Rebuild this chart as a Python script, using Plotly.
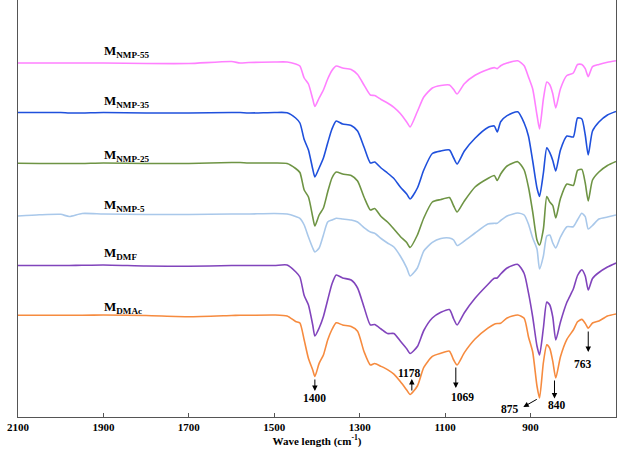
import plotly.graph_objects as go

# Wavenumber grid (cm-1) at which the spectra were read
wavenumber = [2100, 2050, 2000, 1980, 1950, 1900, 1800, 1700, 1600, 1580,
              1560, 1500, 1470, 1450, 1440, 1430, 1420, 1410, 1405, 1395,
              1385, 1375, 1365, 1355, 1340, 1320, 1305, 1290, 1275, 1265,
              1250, 1235, 1220, 1205, 1190, 1182, 1165, 1150, 1130, 1110,
              1090, 1080, 1072, 1055, 1030, 1000, 985, 978, 970, 955,
              930, 915, 905, 895, 885, 879, 870, 862, 855, 848,
              841, 830, 815, 800, 790, 780, 772, 765, 755, 740,
              720, 700]

# Offset absorption (a.u., increasing downwards; stacked spectra)
m_nmp55 = [63, 63, 63, 63, 63, 63, 63.5, 63.5, 61.5, 63,
           62.5, 62, 62, 64, 66, 78, 84, 99, 106.5, 98,
           90, 79, 70.5, 66, 68, 69.5, 74.5, 85, 95, 95.5,
           99.5, 103, 107.3, 113.5, 122, 127, 111.5, 97, 88, 85.5,
           85, 89.6, 94, 83.7, 75.3, 69.5, 67.6, 68.6, 65.7, 63,
           60.8, 65.7, 76.9, 89, 115, 129, 99, 82, 84.8, 93.8,
           108, 88.7, 75.5, 73, 64.5, 64.4, 68.7, 76.7, 66.6, 64.5,
           62.3, 60.7]

m_nmp35 = [112.5, 112.5, 112.5, 113, 113, 112.5, 113, 113, 112.5, 112.5,
           113, 112.5, 112.7, 118, 123, 139.5, 150, 169, 177, 168,
           158, 143, 129, 121, 124, 125.5, 131, 147, 163, 162,
           168, 173, 178.5, 187, 194, 199, 188, 170, 153.5, 151,
           150, 158, 164, 151, 138.3, 127.5, 126, 132, 121.7, 115.6,
           111.8, 123, 136, 161, 188, 196.5, 173, 147.7, 152.7, 160.5,
           171, 150, 136, 137, 118, 119, 135, 155, 131, 122,
           115, 111.5]

m_nmp25 = [163.3, 163.5, 163.5, 163.5, 163.5, 163, 163.5, 163.5, 162.5, 162.5,
           163, 163, 163.5, 168.5, 172.5, 190, 197, 217, 226, 215,
           208, 192, 178, 172, 174, 175.5, 181, 197, 210, 208.5,
           216.5, 222, 229, 236.5, 242.5, 247.5, 235, 218, 202, 199.5,
           197.5, 206, 212, 201, 187, 178.5, 175.5, 180.5, 174, 166,
           161.7, 170, 187, 212, 240, 245, 229, 196.5, 202, 205.5,
           218, 198.5, 184, 185.5, 170.3, 169.4, 183, 201, 180, 172,
           165.5, 161.5]

m_nmp5 = [216, 214.8, 214.3, 216.5, 213.5, 214, 214.5, 214.5, 214, 214,
          214, 213.5, 214, 216.5, 218.3, 225, 237, 248, 252, 248,
          235, 222, 220, 218.3, 219, 220, 222, 227.6, 232, 233.3,
          238.5, 243, 247, 256, 267.8, 276, 268, 251, 242.4, 238.5,
          238, 240, 245.5, 241, 233, 224, 223.3, 223.3, 220.5, 216,
          213, 215, 224, 238, 249, 269, 256, 236, 235, 243,
          248, 237, 226.7, 226.7, 219.8, 213.3, 216.7, 229, 225.5, 219,
          217, 215]

m_dmf = [265.5, 265.5, 265.5, 265.5, 265.3, 265, 266, 266.3, 265.5, 265.5,
         265.5, 265.5, 265, 271.7, 277, 295.5, 305, 325, 336, 328,
         316.5, 300, 284, 275, 278, 280, 288, 307, 325, 324.5,
         329, 333.5, 333.5, 341, 348.7, 353.5, 346.5, 330.5, 318, 312.3,
         309.5, 319, 325, 312.7, 298.3, 284.5, 278.3, 278, 274, 268,
         264.4, 273.5, 292.6, 317, 346, 355, 328, 302, 305, 317,
         340, 322, 302.3, 289, 275.5, 269.7, 276, 290, 278.5, 272.5,
         267, 263]

m_dmac = [315.3, 315.3, 315.3, 315.3, 315.3, 315, 315.5, 316.7, 315.5, 315.3,
          315.3, 315, 316, 321.5, 323, 340, 358.5, 370, 376.5, 363.4,
          355, 340, 329.5, 322.8, 325, 326.6, 331.2, 351.5, 365, 363.5,
          366.4, 369.6, 374.2, 381.6, 390, 394.5, 386, 367.4, 356.4, 353.3,
          351.2, 360, 365, 352.6, 339, 328.2, 324.2, 323.5, 323.2, 318,
          315, 318.3, 336.7, 352, 386, 398, 362.5, 344.7, 348.3, 361.3,
          378, 356.7, 339.3, 330, 321.8, 319.4, 323.4, 328.3, 323, 321,
          316, 314]

series_names = ["M<sub>NMP-55</sub>", "M<sub>NMP-35</sub>", "M<sub>NMP-25</sub>",
                "M<sub>NMP-5</sub>", "M<sub>DMF</sub>", "M<sub>DMAc</sub>"]
series_values = [m_nmp55, m_nmp35, m_nmp25, m_nmp5, m_dmf, m_dmac]
series_colors = ["#FF80FF", "#1F50DC", "#6E9444", "#A9C8EA", "#8144BC", "#F68B3F"]
label_levels = [51, 101, 155, 205, 253, 307]

tick_values = [2100, 1900, 1700, 1500, 1300, 1100, 900, 700]

peak_labels = ["1400", "1178", "1069", "875", "840", "763"]

serif = "Liberation Serif, Times New Roman, serif"

fig = go.Figure()
for name, vals, col in zip(series_names, series_values, series_colors):
    fig.add_trace(go.Scatter(
        x=wavenumber, y=vals, mode="lines", name=name, showlegend=False,
        line=dict(color=col, width=1.6, shape="spline", smoothing=0.6),
    ))

annotations = []
for name, lvl in zip(series_names, label_levels):
    annotations.append(dict(
        x=1903, y=lvl, xref="x", yref="y", text="<b>" + name + "</b>",
        showarrow=False, xanchor="left", yanchor="middle",
        font=dict(family=serif, size=13, color="black"),
    ))

arrows = [
    (1405, 378, 1405, 391),
    (1178, 392, 1178, 379),
    (1075, 366, 1075, 388),
    (882, 398.5, 917, 407),
    (844, 379, 844, 398.5),
    (765, 330, 765, 352),
]
texts = [
    (1405, 397.5), (1184, 372.5), (1060, 397), (948, 408.5), (838, 404.5), (777, 364),
]
for (tx, ty, hx, hy) in arrows:
    annotations.append(dict(
        x=hx, y=hy, ax=tx, ay=ty, xref="x", yref="y", axref="x", ayref="y",
        text="", showarrow=True, arrowhead=2, arrowsize=1.1, arrowwidth=1,
        arrowcolor="black", standoff=0, startstandoff=0,
    ))
for lab, (px, py) in zip(peak_labels, texts):
    annotations.append(dict(
        x=px, y=py, xref="x", yref="y", text="<b>" + lab + "</b>",
        showarrow=False, xanchor="center", yanchor="middle",
        font=dict(family=serif, size=11.5, color="black"),
    ))

fig.update_layout(
    width=622, height=451,
    margin=dict(l=18, r=6, t=0, b=34),
    paper_bgcolor="white", plot_bgcolor="white",
    annotations=annotations,
    xaxis=dict(
        range=[2100, 700], tickvals=tick_values,
        ticks="inside", ticklen=4, tickcolor="#555555", tickwidth=1,
        showline=True, linecolor="#555555", linewidth=1, mirror=False,
        showgrid=False, zeroline=False,
        tickfont=dict(family=serif, size=11, color="black", weight="bold"),
        title=dict(text="<b>Wave length (cm<sup>-1</sup>)</b>", standoff=4,
                   font=dict(family=serif, size=11, color="black")),
    ),
    yaxis=dict(
        range=[417, 0], showticklabels=False, ticks="",
        showline=True, linecolor="#555555", linewidth=1, mirror=True,
        showgrid=False, zeroline=False,
    ),
)

fig.write_html("out.html",
               config={"displayModeBar": False, "staticPlot": True},
               post_script="document.body.style.margin='0';document.body.style.overflow='hidden';")
